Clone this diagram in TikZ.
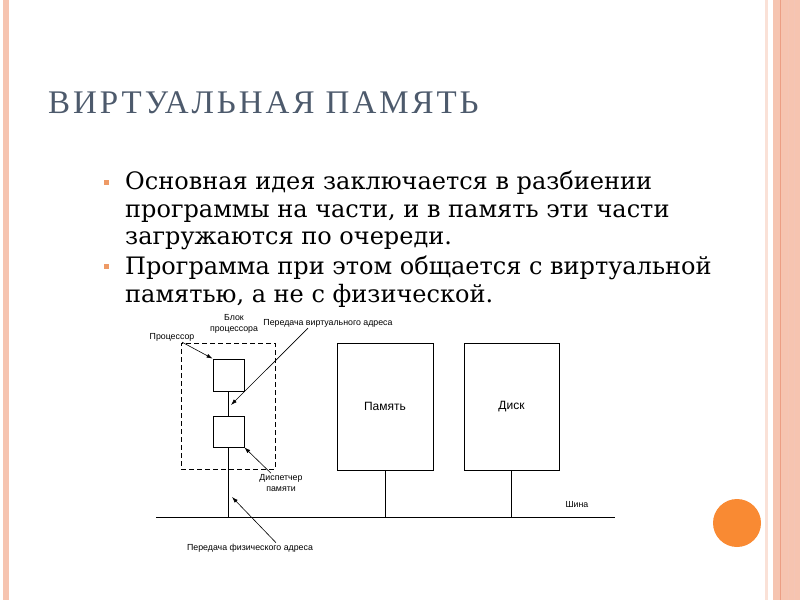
\documentclass[tikz,border=0pt]{standalone}
\usepackage{fontspec}
\setmainfont{DejaVu Serif}
\newfontfamily\titlefont[LetterSpace=9]{Liberation Serif}
\newfontfamily\labelfont{Liberation Sans}
\usetikzlibrary{arrows.meta}
\definecolor{stripe}{HTML}{F6C4B0}
\definecolor{stripedark}{HTML}{EC9E84}
\definecolor{dotorange}{HTML}{F98A33}
\definecolor{titlegray}{HTML}{4D5A6C}
\definecolor{bulletorange}{HTML}{EE9A66}
\tikzset{
  unitbox/.style={draw, line width=0.8pt, inner sep=0pt,
    font=\labelfont\fontsize{12}{14}\selectfont},
  tag/.style={font=\labelfont\fontsize{8.8}{11}\selectfont, inner sep=1pt, align=center},
  pointer/.style={-{Latex[length=6pt,width=4pt]}, line width=0.6pt},
  wire/.style={line width=0.8pt},
  bullettext/.style={anchor=north west, inner sep=0pt, align=left,
    font=\fontsize{24}{27.5}\selectfont},
  bulletmark/.style={fill=bulletorange, minimum size=5pt, inner sep=0pt},
}
\begin{document}
\begin{tikzpicture}[x=1pt,y=-1pt]
  \useasboundingbox (0,0) rectangle (800,600);
  % page frame
  \fill[stripe] (3,0) rectangle (9,600);
  \fill[stripe!50] (765,0) rectangle (768,600);
  \fill[stripe] (773,0) rectangle (800,600);
  \draw[stripedark, line width=1pt] (780,0) -- (780,600);
  \draw[stripedark!60, line width=0.6pt] (788,0) -- (788,600);
  \draw[stripedark!60, line width=0.6pt] (794,0) -- (794,600);
  \fill[dotorange] (737,523) circle (24);

  % title and text
  \node[anchor=base west, inner sep=0pt, text=titlegray,
    font=\titlefont\fontsize{33}{36}\selectfont] (title) at (48,113)
    {ВИРТУАЛЬНАЯ ПАМЯТЬ};
  \node[bulletmark] (b1) at (106,182) {};
  \node[bullettext] (t1) at (125,171)
    {Основная идея заключается в разбиении\\
     программы на части, и в память эти части\\
     загружаются по очереди.};
  \node[bulletmark] (b2) at (106,266) {};
  \node[bullettext] (t2) at (125,256)
    {Программа при этом общается с виртуальной\\
     памятью, а не с физической.};

  % diagram
  \node[draw, dash pattern=on 5pt off 3pt, line width=0.8pt,
    minimum width=94pt, minimum height=126pt] (block) at (228,406) {};
  \node[unitbox, minimum width=31pt, minimum height=32pt] (proc) at (228.5,375) {};
  \node[unitbox, minimum width=31pt, minimum height=31pt] (disp) at (228.5,431.5) {};
  \node[unitbox, minimum width=96pt, minimum height=127pt] (mem) at (385,406.5) {Память};
  \node[unitbox, minimum width=95pt, minimum height=127pt] (disk) at (511.5,406.5) {Диск};
  \coordinate (bus west) at (156,517);
  \coordinate (bus east) at (615,517);
  \draw[wire] (bus west) -- (bus east);
  \draw[wire] (proc.south) -- (disp.north);
  \draw[wire] (disp.south) -- (disp.south |- bus west);
  \draw[wire] (mem.south) -- (mem.south |- bus west);
  \draw[wire] (disk.south) -- (disk.south |- bus west);

  \node[tag] (blocklbl) at (234,324) {Блок\\процессора};
  \node[tag] (proclbl) at (172,337) {Процессор};
  \node[tag] (virtlbl) at (328,323) {Передача виртуального адреса};
  \node[tag] (displbl) at (281,483) {Диспетчер\\памяти};
  \node[tag] (physlbl) at (250,548) {Передача физического адреса};
  \node[tag] (buslbl) at (577,505) {Шина};

  \coordinate (vtip) at (231,405);
  \coordinate (ptip) at (232,497);
  \draw[pointer] ([xshift=10pt]proclbl.south) -- (proc.north west);
  \draw[pointer] ([xshift=-20pt]virtlbl.south) -- (vtip);
  \draw[pointer] ([xshift=-10pt]displbl.north) -- (disp.south east);
  \draw[pointer] ([xshift=26pt]physlbl.north) -- (ptip);
\end{tikzpicture}
\end{document}
